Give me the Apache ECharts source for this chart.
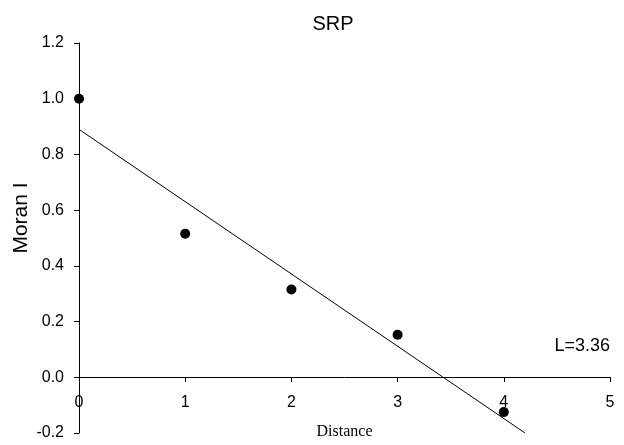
<!DOCTYPE html>
<html>
<head>
<meta charset="utf-8">
<script src="https://cdn.jsdelivr.net/npm/echarts@6/dist/echarts.min.js"></script>
<style>html,body{margin:0;padding:0;background:#fff}#c{width:624px;height:445px}</style>
</head>
<body>
<div id="c"></div>
<script>
const distance = [0, 1, 2, 3, 4];
const moranI = [1.0, 0.515, 0.315, 0.153, -0.125];
const fitX = [0, 4.2];
const fitY = [0.89, -0.2];
const xTicks = [0, 1, 2, 3, 4, 5];
const yTicks = [-0.2, 0, 0.2, 0.4, 0.6, 0.8, 1.0, 1.2];
const chartTitle = 'SRP';
const yTitle = 'Moran I';
const xTitle = 'Distance';
const annotation = 'L=3.36';

const chart = echarts.init(document.getElementById('c'));
const font = 'Liberation Sans, Arial, sans-serif';
chart.setOption({
  animation: false,
  title: {text: chartTitle, left: 328, top: 9, textAlign: 'center',
    textStyle: {fontFamily: font, fontWeight: 'normal', fontSize: 20, color: '#000'}},
  grid: {left: 79, right: 14, top: 43, bottom: 12, containLabel: false, outerBoundsMode: 'none'},
  xAxis: {
    type: 'value', min: xTicks[0], max: xTicks[xTicks.length-1], interval: 1,
    position: 'bottom', offset: -56,
    axisLine: {onZero: false, lineStyle: {color: '#000', width: 1}},
    axisTick: {show: true, length: 5, inside: false, lineStyle: {color: '#000'}},
    axisLabel: {margin: 18, fontFamily: font, fontSize: 16, color: '#000'},
    splitLine: {show: false},
    name: xTitle, nameLocation: 'middle', nameGap: 47,
    nameTextStyle: {fontFamily: 'Liberation Serif, Times New Roman, serif', fontSize: 16, color: '#000'}
  },
  yAxis: {
    type: 'value', min: yTicks[0], max: yTicks[yTicks.length-1], interval: 0.2,
    axisLine: {show: true, onZero: false, lineStyle: {color: '#000', width: 1}},
    axisTick: {show: true, length: 5, lineStyle: {color: '#000'}},
    axisLabel: {margin: 15, fontFamily: font, fontSize: 16, color: '#000',
      formatter: v => v.toFixed(1)},
    splitLine: {show: false}
  },
  series: [
    {type: 'line', data: fitX.map((x, i) => [x, fitY[i]]), symbol: 'none',
      lineStyle: {color: '#000', width: 1}, z: 3},
    {type: 'scatter', data: distance.map((x, i) => [x, moranI[i]]), symbol: 'circle',
      symbolSize: 10, itemStyle: {color: '#000', opacity: 1}, z: 4}
  ],
  graphic: [
    {type: 'text', right: 14, top: 337,
      style: {text: annotation, font: '18px ' + font, fill: '#000'}},
    {type: 'text', x: 21, y: 218, rotation: Math.PI / 2,
      style: {text: yTitle, font: '21px ' + font, fill: '#000', align: 'center', verticalAlign: 'middle'}}
  ]
});
</script>
</body>
</html>
